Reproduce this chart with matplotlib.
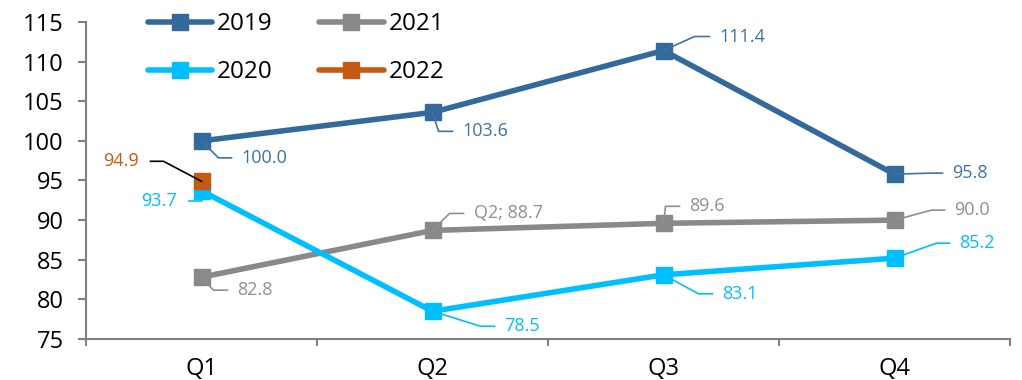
import matplotlib
matplotlib.use('Agg')
import matplotlib.pyplot as plt
import numpy as np
from matplotlib.lines import Line2D
from matplotlib.transforms import IdentityTransform

plt.rcParams['font.family'] = ['Open Sans', 'DejaVu Sans']

# ---- data ----
quarters = ['Q1', 'Q2', 'Q3', 'Q4']
years = ['2019', '2020', '2021', '2022']
y2019 = [100.0, 103.6, 111.4, 95.8]
y2020 = [93.7, 78.5, 83.1, 85.2]
y2021 = [82.8, 88.7, 89.6, 90.0]
y2022 = [94.9, np.nan, np.nan, np.nan]
text2019 = ['100.0', '103.6', '111.4', '95.8']
text2020 = ['93.7', '78.5', '83.1', '85.2']
text2021 = ['82.8', 'Q2; 88.7', '89.6', '90.0']
text2022 = ['94.9', '', '', '']

# ---- styles ----
colors = {'2019': '#34699b', '2020': '#00bfff', '2021': '#898989', '2022': '#c55a11'}
label_colors = {'2019': '#3f72a3', '2020': '#00bfff', '2021': '#8f8f8f', '2022': '#c55a11'}
leader_colors = {'2019': '#3f72a3', '2020': '#00bfff', '2021': '#8f8f8f', '2022': '#000000'}
zorders = {'2019': 4, '2020': 5, '2021': 3, '2022': 6}
# leader offsets in pixels: elbow dx, elbow dy, horizontal length
leaders = {
    '2019': [(17, -17, 13), (6, -19, 14), (31, 14, 15), (35, 1, 13)],
    '2020': [(0, -10, -13), (48, -15, 14), (35, -19, 14), (42, 15, 13)],
    '2021': [(12, -13, 14), (17, 17, 14), (2, 17, 14), (37, 10, 13)],
    '2022': [(-38, 20, -13), None, None, None],
}

series = {'2019': y2019, '2020': y2020, '2021': y2021, '2022': y2022}
texts = {'2019': text2019, '2020': text2020, '2021': text2021, '2022': text2022}

fig = plt.figure(figsize=(10.22, 3.8), dpi=100)
ax = fig.add_axes([86 / 1022, 1 - 339 / 380, 924 / 1022, 317 / 380])

x = np.arange(len(quarters))
for yr in years:
    ax.plot(x, series[yr], color=colors[yr], lw=4, marker='s', ms=11,
            label=yr, zorder=zorders[yr], solid_capstyle='round')

ax.set_xlim(-0.5, 3.5)
ax.set_ylim(75, 115)
ax.set_yticks(np.arange(75, 116, 5))
ax.set_xticks(x)
ax.set_xticklabels(quarters)
ax.set_xticks(np.arange(-0.5, 3.6, 1), minor=True)
ax.tick_params(axis='x', which='major', length=0, pad=13, labelsize=17)
ax.tick_params(axis='x', which='minor', length=5, width=1.5, color='#808080')
ax.tick_params(axis='y', length=6, width=1.5, color='#808080', pad=10, labelsize=17)
for s in ['top', 'right']:
    ax.spines[s].set_visible(False)
for s in ['left', 'bottom']:
    ax.spines[s].set_color('#808080')
    ax.spines[s].set_linewidth(1.5)

leg = ax.legend(ncol=2, loc='upper left', bbox_to_anchor=(0.067, 1.03),
                frameon=False, fontsize=17.5, handlelength=2.65, handletextpad=0.2,
                columnspacing=1.9, labelspacing=0.97, borderpad=0, borderaxespad=0)

# data labels with leader lines (pixel offsets)
ident = IdentityTransform()
for yr in years:
    for i, val in enumerate(series[yr]):
        spec = leaders[yr][i]
        if spec is None or np.isnan(val):
            continue
        ex, ey, h = spec
        px, py = ax.transData.transform((x[i], val))
        exx, eyy = px + ex, py + ey
        fig.add_artist(Line2D([px, exx, exx + h], [py, eyy, eyy],
                              color=leader_colors[yr], lw=1.2,
                              transform=ident, zorder=7))
        gap = 10 if h > 0 else -12
        fig.text(exx + h + gap, eyy, texts[yr][i], transform=ident,
                 ha='left' if h > 0 else 'right', va='center',
                 fontsize=13, color=label_colors[yr], zorder=8)

fig.savefig('out.png', dpi=100)
